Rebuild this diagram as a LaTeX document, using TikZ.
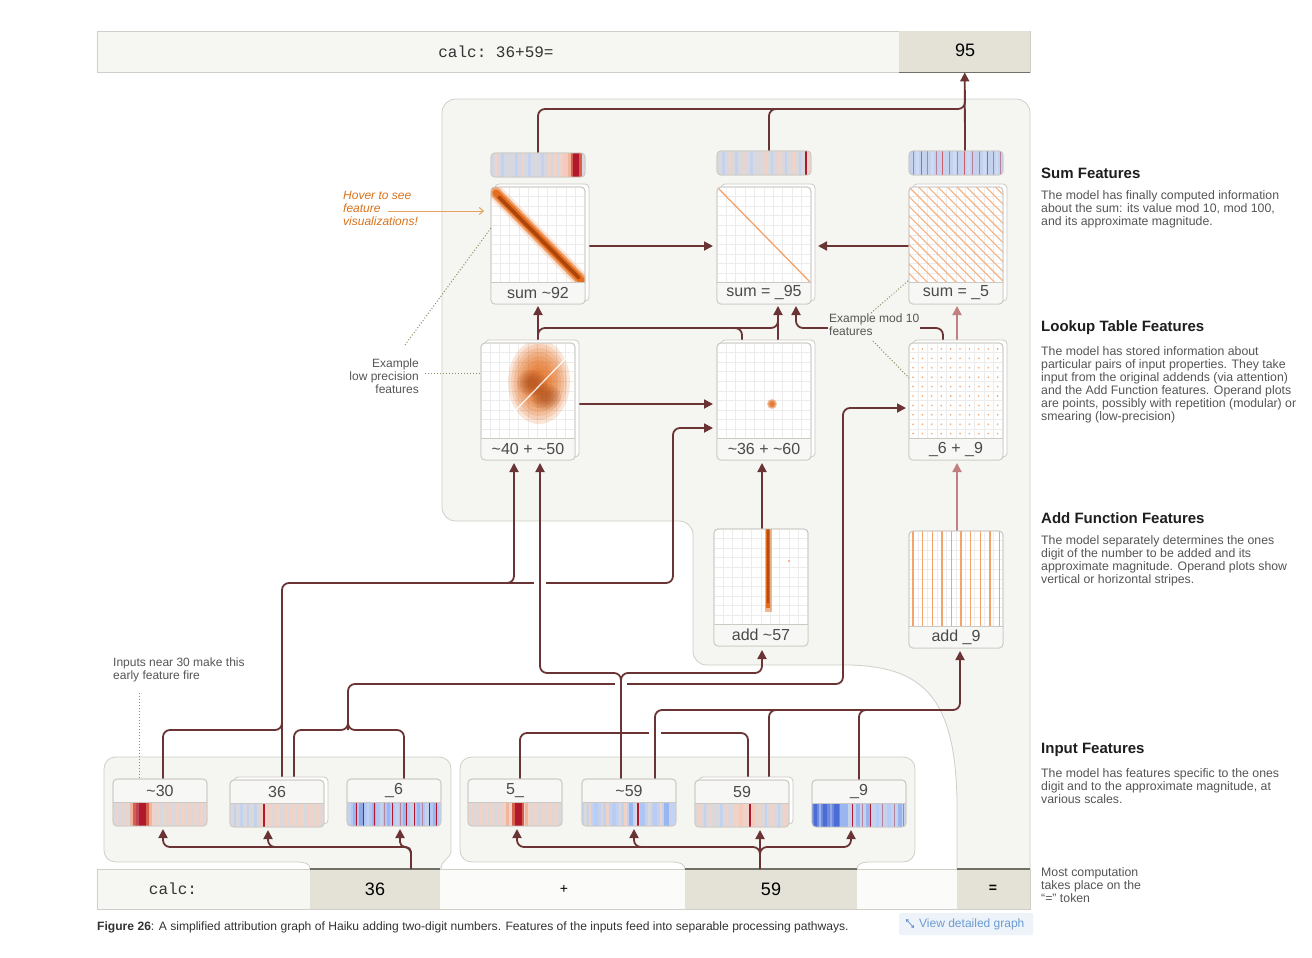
\documentclass[tikz,border=0pt]{standalone}
\usepackage{fontspec}
\setmainfont{Liberation Sans}
\setmonofont{Liberation Mono}
\usetikzlibrary{arrows.meta}
\definecolor{wirec}{HTML}{6A3434}
\definecolor{pinkc}{HTML}{C27F7F}
\definecolor{panelf}{HTML}{F5F5F1}
\definecolor{panelb}{HTML}{CFCEC8}
\definecolor{tokd}{HTML}{E4E1D6}
\definecolor{tokl}{HTML}{F6F6F2}
\definecolor{tokw}{HTML}{FBFBF9}
\definecolor{tokline}{HTML}{707068}
\definecolor{cardb}{HTML}{CBC9C2}
\definecolor{labfill}{HTML}{F7F7F5}
\definecolor{gridc}{HTML}{ECECEC}
\definecolor{labc}{HTML}{4A4A4A}
\definecolor{notec}{HTML}{555555}
\definecolor{dotc}{HTML}{7E9460}
\definecolor{hovc}{HTML}{D9731A}
\definecolor{hovline}{HTML}{E3A25E}
\definecolor{orD}{HTML}{8A2C00}
\definecolor{orM}{HTML}{E2600A}
\definecolor{orL}{HTML}{F4A36B}
\definecolor{dred}{HTML}{B2182B}
\definecolor{mred}{HTML}{D6604D}
\definecolor{salm}{HTML}{F1B49C}
\definecolor{lsal}{HTML}{EFD3C8}
\definecolor{gry}{HTML}{D9D8DD}
\definecolor{obg}{HTML}{D5D8E1}
\definecolor{lblu}{HTML}{C5D2EE}
\definecolor{mblu}{HTML}{9AB6F0}
\definecolor{dblu}{HTML}{4B6CD5}
\definecolor{mauv}{HTML}{B5829E}
\definecolor{headc}{HTML}{1E1E1E}
\definecolor{capc}{HTML}{333333}
\definecolor{btnf}{HTML}{EEF3F9}
\definecolor{btnt}{HTML}{6B9BD2}
\definecolor{monoc}{HTML}{333333}

\newcommand\myfs[2]{\fontsize{#1}{#2}\selectfont}
\newcommand\tild{\textasciitilde}

\tikzset{
 wire/.style={draw=wirec, line width=1.8pt, rounded corners=7pt},
 pwire/.style={draw=pinkc, line width=1.8pt},
 arr/.style={-{Triangle[length=9pt,width=9pt]}},
 card/.style={draw=cardb, fill=white, rounded corners=4pt, line width=0.8pt, inner sep=0pt, outer sep=0pt},
 lbl/.style={font=\myfs{16}{18}, text=labc, inner sep=0pt},
 note/.style={font=\myfs{12}{13}, text=notec, align=left, inner sep=0pt},
 dotln/.style={draw=dotc, dotted, line width=1pt},
 panelst/.style={fill=panelf, draw=panelb, line width=0.8pt},
 headtxt/.style={font=\bfseries\myfs{15}{17}, text=headc, anchor=west, inner sep=0pt},
 bodytxt/.style={font=\myfs{12.3}{13}, text=notec, anchor=north west, align=left, inner sep=0pt},
 tokcell/.style={anchor=north west, minimum height=40pt, inner sep=0pt, outer sep=0pt},
}

\newcommand\stripes[6]{%
 \fill[#5] (#1,#2) rectangle ++(#3,#4);
 \foreach \sa/\sw/\sc in {#6}{\fill[\sc] (#1+\sa,#2) rectangle ++(\sw,#4);}}

\newcommand\featcard[6]{%
 \ifnum#5=1 \draw[card] (#2+4,#3-3) rectangle ++(94,117);\fi
 \node[card, anchor=north west, minimum width=94pt, minimum height=117pt] (#1) at (#2,#3) {};
 \begin{scope}
  \clip[rounded corners=4pt] (#2,#3) rectangle ++(94,117);
  \foreach \g in {1,...,9}{\draw[gridc, line width=0.7pt] (#2+\g*9.4,#3) -- ++(0,96);
    \draw[gridc, line width=0.7pt] (#2,#3+\g*9.6) -- ++(94,0);}
  #6
  \fill[labfill] (#2,#3+95) rectangle ++(94,22);
  \draw[cardb, line width=0.8pt] (#2,#3+95) -- ++(94,0);
 \end{scope}
 \draw[cardb, line width=0.8pt, rounded corners=4pt] (#2,#3) rectangle ++(94,117);
 \node[lbl] (#1l) at (#2+47,#3+106) {#4};
}

\newcommand\incard[6]{%
 \ifnum#5=1 \draw[card] (#2+4,#3-3) rectangle ++(94,47);\fi
 \node[card, fill=labfill, anchor=north west, minimum width=94pt, minimum height=47pt] (#1) at (#2,#3) {};
 \begin{scope}
  \clip[rounded corners=4pt] (#2,#3) rectangle ++(94,47);
  #6
 \end{scope}
 \draw[cardb, line width=0.8pt] (#2,#3+23) -- ++(94,0);
 \draw[cardb, line width=0.8pt, rounded corners=4pt] (#2,#3) rectangle ++(94,47);
 \node[lbl] (#1l) at (#2+47,#3+11.5) {#4};
}

\newcommand\obar[5]{%
 \node[card, anchor=north west, minimum width=94pt, minimum height=24pt] (#1) at (#2,#3) {};
 \begin{scope}
  \clip[rounded corners=4pt] (#2,#3) rectangle ++(94,24);
  \stripes{#2}{#3}{94}{24}{#4}{#5}
 \end{scope}
 \draw[cardb, line width=0.8pt, rounded corners=4pt] (#2,#3) rectangle ++(94,24);
}

\begin{document}
\begin{tikzpicture}[x=1pt,y=-1pt]
\useasboundingbox (0,0) rectangle (1312,958);
\fill[white] (0,0) rectangle (1312,958);

% ---------- panels ----------
\path[panelst] (456,99) -- (1016,99) .. controls (1024,99) and (1030,105) .. (1030,113)
 -- (1030,869) -- (957,869) -- (957,800) .. controls (955,700) and (925,667) .. (850,665)
 -- (707,665) .. controls (699,665) and (693,659) .. (693,651)
 -- (693,535) .. controls (693,527) and (687,521) .. (679,521)
 -- (456,521) .. controls (448,521) and (442,515) .. (442,507)
 -- (442,113) .. controls (442,105) and (448,99) .. (456,99) -- cycle;

\path[panelst] (116,757) -- (439,757) .. controls (446,757) and (451,762) .. (451,769)
 -- (451,852) .. controls (451,858) and (441,860) .. (441,869) -- (310,869)
 .. controls (310,864) and (306,862) .. (296,862) -- (116,862)
 .. controls (109,862) and (104,857) .. (104,850) -- (104,769)
 .. controls (104,762) and (109,757) .. (116,757) -- cycle;

\path[panelst] (472,757) -- (903,757) .. controls (910,757) and (915,762) .. (915,769)
 -- (915,850) .. controls (915,857) and (910,862) .. (903,862) -- (868,862)
 .. controls (861,862) and (857,865) .. (857,869) -- (685,869)
 .. controls (685,865) and (681,862) .. (672,862) -- (472,862)
 .. controls (465,862) and (460,857) .. (460,850) -- (460,769)
 .. controls (460,762) and (465,757) .. (472,757) -- cycle;

% ---------- top bar ----------
\node[draw=panelb, fill=tokl, anchor=north west, minimum width=933pt, minimum height=41pt, inner sep=0pt] (topbar) at (97,31) {};
\node[fill=tokd, anchor=north west, minimum width=131pt, minimum height=41pt, inner sep=0pt] (t95) at (899,31) {};
\draw[tokline, line width=1.5pt] (t95.south west) -- (t95.south east);
\node[font=\ttfamily\myfs{16}{16}, text=monoc] (calctop) at (496,52) {calc: 36+59=};
\node[font=\myfs{18}{18}, text=black] (t95l) at (965,50) {95};

% ---------- bottom bar ----------
\node[tokcell, fill=tokl, minimum width=213pt] (tcalc) at (97,869) {};
\node[tokcell, fill=tokd, minimum width=130pt] (t36) at (310,869) {};
\node[tokcell, fill=tokw, minimum width=245pt] (tplus) at (440,869) {};
\node[tokcell, fill=tokd, minimum width=172pt] (t59) at (685,869) {};
\node[tokcell, fill=tokw, minimum width=100pt] (tblank) at (857,869) {};
\node[tokcell, fill=tokd, minimum width=73pt] (teq) at (957,869) {};
\draw[panelb, line width=0.8pt] (97,869) rectangle (1030,909);
\foreach \t in {t36,t59,teq}{\draw[tokline, line width=1.3pt] (\t.north west) -- (\t.north east);}
\node[font=\ttfamily\myfs{16}{16}, text=monoc] (tcalcl) at (173,889) {calc:};
\node[font=\myfs{18}{18}, text=black] (t36l) at (375,889) {36};
\node[font=\myfs{14}{14}, text=black] (tplusl) at (564,889) {+};
\node[font=\myfs{18}{18}, text=black] (t59l) at (771,889) {59};
\node[font=\bfseries\myfs{14}{14}, text=black] (teql) at (993,889) {=};

% ---------- wires (upper) ----------
\draw[wire] (538,153) -- (538,109) -- (965,109) -- (965,90);
\draw[wire] (769,151) -- (769,109) -- (820,109);
\draw[wire,arr] (965,151) -- (t95.south);

\draw[wire,arr] (538,343) -- (538,306);
\draw[wire] (538,343) -- (538,328) -- (778,328) -- (778,318);
\draw[wire] (742,343) -- (742,328) -- (700,328);
\draw[wire,arr] (778,343) -- (778,306);
\draw[wire,arr] (943,343) -- (943,328) -- (796,328) -- (796,306);
\draw[pwire,arr] (957,343) -- (957,306);

\draw[wire,arr] (585,246) -- (713,246);
\draw[wire,arr] (909,246) -- (818,246);
\draw[wire,arr] (578,404) -- (713,404);
\draw[wire,arr] (762,529) -- (762,463);
\draw[pwire,arr] (957,531) -- (957,463);

% ---------- wires (lower) ----------
\draw[wire,arr] (282,779) -- (282,583) -- (514,583) -- (514,463);
\draw[wire,arr] (500,583) -- (673,583) -- (673,428) -- (713,428);
\draw[wire] (163,779) -- (163,730) -- (282,730) -- (282,715);
\draw[wire] (520,779) -- (520,733) -- (748,733) -- (748,779);
\draw[wire] (294,779) -- (294,730) -- (348,730) -- (348,712);
\draw[wire] (404,779) -- (404,730) -- (348,730) -- (348,712);
\draw[wire,arr] (348,730) -- (348,684) -- (843,684) -- (843,408) -- (906,408);
\draw[wire,arr] (655,779) -- (655,710) -- (960,710) -- (960,651);
\draw[wire] (769,780) -- (769,710) -- (800,710);
\draw[wire] (859,780) -- (859,710) -- (890,710);
\draw[wire,arr] (621,779) -- (621,673) -- (540,673) -- (540,463);
\draw[wire,arr] (621,700) -- (621,673) -- (762,673) -- (762,650);

% crossings
\foreach \x/\y in {540/583, 621/684, 655/733}{
 \fill[white] (\x-6,\y-2.6) rectangle (\x+6,\y+2.6);
 \draw[wirec, line width=1.8pt] (\x,\y-6) -- (\x,\y+6);}

% token arrows
\draw[wire,arr] (411,869) -- (411,847) -- (163,847) -- (163,829);
\draw[wire,arr] (300,847) -- (268,847) -- (268,830);
\draw[wire,arr,rounded corners=5pt] (411,860) -- (411,847) -- (400,847) -- (400,829);
\draw[wire,arr] (760,869) -- (760,847) -- (517,847) -- (517,829);
\draw[wire,arr] (680,847) -- (634,847) -- (634,829);
\draw[wire,arr] (760,869) -- (760,830);
\draw[wire,arr] (760,860) -- (760,847) -- (851,847) -- (851,830);

% ---------- output bars ----------
\obar{o92}{491}{153}{obg}{4/1.5/salm!60,10/3/lblu,17/2/gry,24/3/lblu,31/2/lsal,37/3/lblu,44/2/gry,50/3/lblu,57/3/lsal,63/3/lsal,68/4/lsal,72/5/salm!70,77/3/salm,80/2/mred,82/6/dred,88/3/mred,91/3/gry}
\obar{o95}{717}{151}{gry}{5/3/lblu,12/2/lsal,18/3/lblu,26/2/lsal,33/3/lblu,41/2/gry,47/3/lsal,54/2/lblu,61/3/lsal,68/2/lblu,75/3/lsal,82/2/lblu,88/1.8/dred,90/4/lsal}
\obar{o5}{909}{151}{lblu}{7/3/mblu!50,22/3/mblu!50,44/3/mblu!50,58/3/mblu!50,74/3/mblu!50,87/2/mblu!50,4/1.4/mauv,12/1.4/dred!70,18/1.4/mauv,27/1.4/mauv,33/1.4/dred!70,40/1.4/mauv,48/1.4/mauv,55/1.4/dred!70,63/1.4/mauv,70/1.4/mauv,78/1.4/dred!70,84/1.4/mauv,91/1.4/mauv}

% ---------- sum features ----------
\featcard{s92}{491}{187}{sum \tild{}92}{1}{%
 \draw[orL, line width=16pt, line cap=round, opacity=.25] (495,192) -- (582,281);
 \draw[orM, line width=11pt, line cap=round, opacity=.5] (495,192) -- (582,281);
 \draw[orM, line width=7pt, line cap=round, opacity=.8] (496,193) -- (581,280);
 \draw[orD, line width=3.5pt, line cap=round, opacity=.6] (499,197) -- (579,278);}
\featcard{s95}{717}{187}{sum = \_95}{1}{%
 \draw[orL, line width=1.3pt] (718,188) -- (810,282);}
\featcard{s5}{909}{187}{sum = \_5}{1}{%
 \foreach \k in {-10,...,10}{\draw[orL!85, line width=1.1pt] (909+\k*9.6,187) -- ++(100,100);}}

% ---------- lookup features ----------
\featcard{l4050}{481}{343}{\tild{}40 + \tild{}50}{1}{%
 \foreach \i in {0,...,7}{\fill[orM, opacity=.16] (539,382) ellipse [x radius={31pt-3pt*\i}, y radius={42pt-4pt*\i}];}
 \foreach \i in {0,...,4}{\fill[orD, opacity=.1] (532,383) ellipse [x radius={15pt-2.4pt*\i}, y radius={13pt-2pt*\i}];}
 \foreach \i in {0,...,4}{\fill[orD, opacity=.1] (546,397) ellipse [x radius={15pt-2.4pt*\i}, y radius={13pt-2pt*\i}];}
 \draw[white, line width=1.3pt, opacity=.85] (510,416) -- (572,352);}
\featcard{l3660}{717}{343}{\tild{}36 + \tild{}60}{1}{%
 \foreach \i in {0,...,3}{\fill[orM, opacity=.35] (772,404) circle [radius={5pt-1pt*\i}];}}
\featcard{l69}{909}{343}{\_6 + \_9}{1}{%
 \foreach \i in {0,...,9}{\foreach \j in {0,...,9}{\fill[orL] (913+\i*9.4,349+\j*9.4) circle [radius=0.9pt];}}}

% ---------- add features ----------
\featcard{a57}{714}{529}{add \tild{}57}{0}{%
 \draw[orM, line width=7pt, opacity=.45] (768,529) -- (768,612);
 \draw[orM, line width=4.5pt, opacity=.85] (768,529) -- (768,608);
 \draw[orD, line width=2pt, opacity=.5] (768,529) -- (768,603);
 \fill[orL] (789,561) circle [radius=1.2pt];}
\featcard{a9}{909}{531}{add \_9}{0}{%
 \foreach \k in {0,...,9}{\draw[orL, line width=1.4pt] (913+\k*9.6,531) -- ++(0,96);}}

% ---------- input features ----------
\incard{i30}{113}{779}{\tild{}30}{0}{\stripes{113}{802}{94}{24}{lsal}{1/2/gry,5/3/gry,10/2/gry,14/2/gry,17/3/salm,20/3/mred,23/3/dred!80,26/7/dred,33/3/mred,36/3/salm,42/2/gry,47/3/gry,53/2/gry,59/3/gry,66/2/gry,72/2/gry,78/3/gry,85/2/gry,90/2/gry}}
\incard{i36}{230}{780}{36}{1}{\stripes{230}{803}{94}{24}{gry}{4/2/lblu,10/3/lblu,17/2/lblu,24/3/lblu,30/3/lsal,33/1.6/dred,34.6/60/lsal,42/2/gry,50/3/gry,58/2/gry,66/2/gry,74/3/gry,83/2/gry,90/2/gry}}
\incard{i6}{347}{779}{\_6}{0}{\stripes{347}{802}{94}{24}{mblu!75}{0/4/lblu,6/3/mblu,12/5/dblu!60,20/2/lblu,25/4/mblu,33/3/lblu,40/3/mblu,48/4/lblu,56/3/mblu,63/4/lblu,70/3/mblu,78/4/lblu,86/3/mblu,92/2/lblu,9/1.2/dred,16/1.2/dred,27/1.2/dred,37/1.2/mauv,45/1.2/dred,53/1.2/mauv,59/1.2/dred,67/1.2/dred,75/1.2/mauv,82/1.2/dred,89/1.2/dred}}
\incard{i5}{468}{779}{5\_}{0}{\stripes{468}{802}{94}{24}{lsal}{1/2/gry,5/2/gry,9/3/gry,15/2/gry,20/2/gry,26/3/gry,32/2/gry,38/3/salm,44/3/mred,47/7/dred,54/2/mred,57/3/salm,63/2/gry,70/3/gry,77/2/gry,84/2/gry,90/3/gry}}
\incard{i59a}{582}{779}{\tild{}59}{0}{\stripes{582}{802}{94}{24}{lblu}{2/3/gry,7/2/lsal,12/4/mblu!70,19/2/gry,24/3/lsal,30/4/mblu!70,37/2/gry,42/3/lsal,47/4/mblu,53/2/gry,55/1.6/dred,58/5/mblu!80,66/3/gry,71/4/mblu!70,78/2/lsal,82/5/mblu,89/4/mblu!60}}
\incard{i59}{695}{780}{59}{1}{\stripes{695}{803}{94}{24}{gry}{3/3/lsal,9/2/lblu,14/3/lsal,20/2/gry,25/3/lblu,31/2/lsal,38/22/lsal,44/4/salm!70,54/1.6/dred,57/3/salm!70,63/3/lsal,70/2/lblu,75/4/lsal,83/2/lblu,88/4/lsal}}
\incard{i9}{812}{780}{\_9}{0}{\stripes{812}{803}{94}{24}{lblu}{0/28/dblu!80,2/3/dblu,7/2/mblu,11/4/dblu,18/2/dblu!60,22/5/dblu,28/8/mblu,36/3/lblu,40/1.4/dred,44/4/mblu,50/1.4/mauv,54/4/mblu,58/1.4/dred,64/3/mblu!70,70/1.4/mauv,75/4/mblu!70,82/1.4/mauv,86/4/mblu,91/1.4/mauv}}

% ---------- annotations ----------
\node[note, text=hovc, font=\itshape\myfs{12}{13}, anchor=north west] (hover) at (343,191) {Hover to see\\feature\\visualizations!};
\coordinate (hovtip) at (484,211);
\draw[hovline, line width=1pt, -{Straight Barb[length=4pt,width=7pt]}] (388,211) -- (hovtip);

\node[note, align=right, anchor=north east] (lowp) at (419,359) {Example\\low precision\\features};
\draw[dotln] (425,373) -- (l4050.west |- 0,373);
\draw[dotln] (405,345) -- (491,228);

\node[note, fill=panelf, inner sep=1pt, anchor=north west] (mod10) at (828,313) {Example mod 10\\features};
\draw[dotln] (871,313) -- (909,280);
\draw[dotln] (873,341) -- (909,378);

\node[note, anchor=north west] (near30) at (113,658) {Inputs near 30 make this\\early feature fire};
\draw[dotln] (139,693) -- (139,779);

% ---------- right column ----------
\node[headtxt] (hsum) at (1041,173) {Sum Features};
\node[bodytxt] (bsum) at (1041,190) {The model has finally computed information\\about the sum: its value mod 10, mod 100,\\and its approximate magnitude.};
\node[headtxt] (hlut) at (1041,328) {Lookup Table Features};
\node[bodytxt] (blut) at (1041,346) {The model has stored information about\\particular pairs of input properties. They take\\input from the original addends (via attention)\\and the Add Function features. Operand plots\\are points, possibly with repetition (modular) or\\smearing (low-precision)};
\node[headtxt] (hadd) at (1041,518) {Add Function Features};
\node[bodytxt] (badd) at (1041,535) {The model separately determines the ones\\digit of the number to be added and its\\approximate magnitude. Operand plots show\\vertical or horizontal stripes.};
\node[headtxt] (hinp) at (1041,750) {Input Features};
\node[bodytxt] (binp) at (1041,768) {The model has features specific to the ones\\digit and to the approximate magnitude, at\\various scales.};
\node[bodytxt] (bmost) at (1041,867) {Most computation\\takes place on the\\\textquotedblleft=\textquotedblright{} token};

% ---------- caption & button ----------
\node[anchor=west, font=\myfs{12.1}{13}, text=capc, inner sep=0pt] (cap) at (97,927) {\textbf{Figure 26}: A simplified attribution graph of Haiku adding two-digit numbers. Features of the inputs feed into separable processing pathways.};
\node[fill=btnf, rounded corners=2pt, anchor=north west, minimum width=134pt, minimum height=22pt, inner sep=0pt] (btn) at (899,913) {};
\node[anchor=west, font=\myfs{12}{13}, text=btnt, inner sep=0pt] (btnl) at (919,924) {View detailed graph};
\draw[btnt, line width=0.8pt, {Straight Barb[length=2pt,width=3pt]}-{Straight Barb[length=2pt,width=3pt]}] (906,919) -- (914,928);
\end{tikzpicture}
\end{document}
